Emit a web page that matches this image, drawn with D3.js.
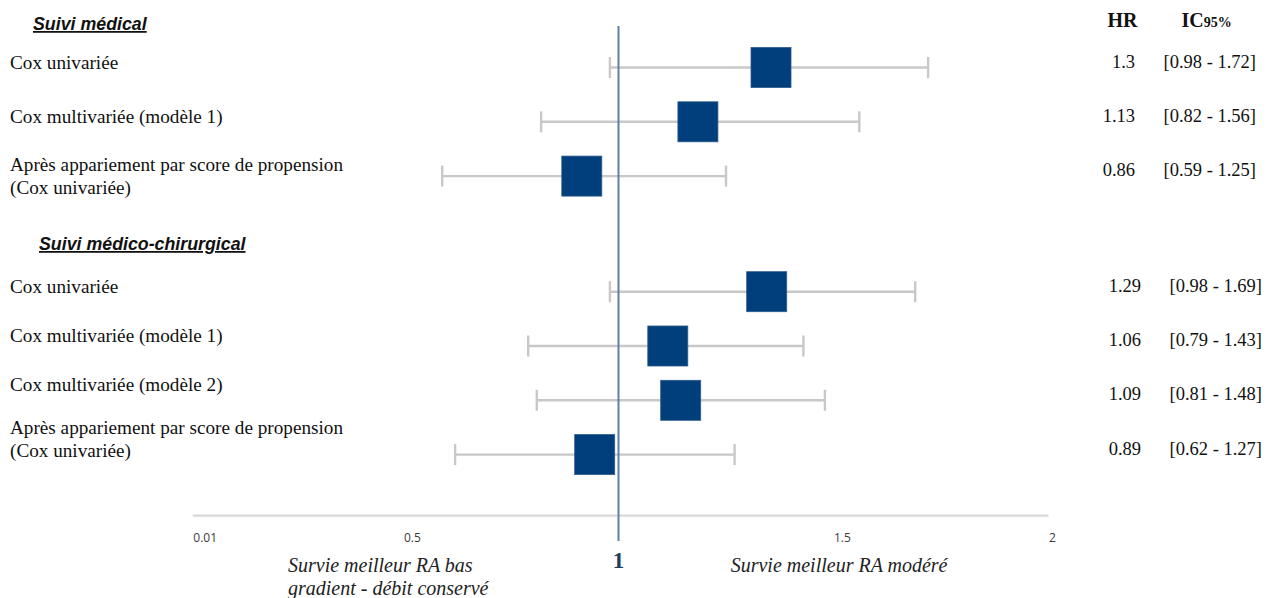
<!DOCTYPE html>
<html>
<head>
<meta charset="utf-8">
<script src="https://cdn.jsdelivr.net/npm/d3@7"></script>
<style>
  html, body { margin: 0; padding: 0; background: #ffffff; }
  svg { display: block; }
</style>
</head>
<body>
<svg id="chart" width="1276" height="598"></svg>
<script>
// ---------------- DATA ----------------
const groupTitles = ["Suivi médical", "Suivi médico-chirurgical"];
const rowLabels = [
  ["Cox univariée"],
  ["Cox multivariée (modèle 1)"],
  ["Après appariement par score de propension", "(Cox univariée)"],
  ["Cox univariée"],
  ["Cox multivariée (modèle 1)"],
  ["Cox multivariée (modèle 2)"],
  ["Après appariement par score de propension", "(Cox univariée)"]
];
const rowGroup = [0, 0, 0, 1, 1, 1, 1];
const hrValues = [1.3, 1.13, 0.86, 1.29, 1.06, 1.09, 0.89];
const ciLow    = [0.98, 0.82, 0.59, 0.98, 0.79, 0.81, 0.62];
const ciHigh   = [1.72, 1.56, 1.25, 1.69, 1.43, 1.48, 1.27];
const tickValues = [0.01, 0.5, 1.5, 2];
const tickLabels = ["0.01", "0.5", "1.5", "2"];
const refValue = 1;
const leftCaption = ["Survie meilleur RA bas", "gradient - débit conservé"];
const rightCaption = "Survie meilleur RA modéré";

// ---------------- LAYOUT ----------------
const svg = d3.select("#chart");
const x = d3.scaleLinear().domain([0, 2]).range([188.5, 1048.5]);

const groupTop = [67.5, 291.7];       // y of first row in each group
const rowStep = 54.3;
const headerY = [30, 250];
const headerX = [33, 39];
const labelBase = [68.5, 292.7];
const labelStep = [54, 49];
const colShift = [0, 6];

const idxInGroup = rowGroup.map((g, i) => i - rowGroup.indexOf(g));
const rowY = rowGroup.map((g, i) => groupTop[g] + rowStep * idxInGroup[i]);

const rows = hrValues.map((hr, i) => ({
  hr, lo: ciLow[i], hi: ciHigh[i], g: rowGroup[i], k: idxInGroup[i],
  y: rowY[i], label: rowLabels[i]
}));

const serif = "'Liberation Serif', 'Times New Roman', serif";
const sans = "'Liberation Sans', Arial, sans-serif";

// ---------------- AXIS ----------------
const axisY = 515.7;
svg.append("line")
  .attr("x1", x(tickValues[0])).attr("x2", x(tickValues[tickValues.length - 1]))
  .attr("y1", axisY).attr("y2", axisY)
  .attr("stroke", "#d9d9d9").attr("stroke-width", 2.2);

const axis = d3.axisBottom(x)
  .tickValues(tickValues)
  .tickFormat((d, i) => tickLabels[i])
  .tickSize(0)
  .tickPadding(0);
const axG = svg.append("g").attr("transform", `translate(0, 531)`).call(axis);
axG.select(".domain").remove();
axG.selectAll("text")
  .attr("text-anchor", "start")
  .attr("dy", "0.95em")
  .attr("font-family", "'Open Sans', sans-serif")
  .attr("font-size", 12)
  .attr("fill", "#3a3a3a");

// ---------------- WHISKERS ----------------
const wh = svg.append("g").attr("stroke", "#c8c8c8").attr("stroke-width", 2.4);
wh.selectAll("line.ci").data(rows).join("line")
  .attr("class", "ci")
  .attr("x1", d => x(d.lo)).attr("x2", d => x(d.hi))
  .attr("y1", d => d.y).attr("y2", d => d.y);
wh.selectAll("line.capL").data(rows).join("line")
  .attr("class", "capL")
  .attr("x1", d => x(d.lo)).attr("x2", d => x(d.lo))
  .attr("y1", d => d.y - 10.5).attr("y2", d => d.y + 10.5);
wh.selectAll("line.capR").data(rows).join("line")
  .attr("class", "capR")
  .attr("x1", d => x(d.hi)).attr("x2", d => x(d.hi))
  .attr("y1", d => d.y - 10.5).attr("y2", d => d.y + 10.5);

// ---------------- REFERENCE LINE ----------------
svg.append("line")
  .attr("x1", x(refValue)).attr("x2", x(refValue))
  .attr("y1", 26).attr("y2", 541)
  .attr("stroke", "#5b80ab").attr("stroke-width", 2);

// ---------------- BOXES ----------------
const boxSize = 40;
svg.append("g").selectAll("rect").data(rows).join("rect")
  .attr("x", d => x(d.hr) + 3.5)
  .attr("y", d => d.y - boxSize / 2)
  .attr("width", boxSize).attr("height", boxSize)
  .attr("fill", "#003f7b")
  .attr("stroke", "#2a5a8c").attr("stroke-width", 0.8);

// ---------------- GROUP HEADERS ----------------
groupTitles.forEach((t, g) => {
  svg.append("text")
    .attr("x", headerX[g]).attr("y", headerY[g])
    .attr("font-family", sans).attr("font-size", 17.8)
    .attr("font-weight", "bold").attr("font-style", "italic")
    .attr("fill", "#111")
    .attr("text-decoration", "underline")
    .text(t);
});

// ---------------- ROW LABELS ----------------
rows.forEach(d => {
  const two = d.label.length > 1;
  const base = labelBase[d.g] + labelStep[d.g] * d.k - (two ? 6 : 0);
  const t = svg.append("text")
    .attr("font-family", serif).attr("font-size", 19.2).attr("fill", "#111");
  d.label.forEach((line, j) => {
    t.append("tspan").attr("x", 10).attr("y", base + j * 23.5).text(line);
  });
});

// ---------------- VALUE COLUMNS ----------------
svg.append("text")
  .attr("x", 1122.5).attr("y", 26.7).attr("text-anchor", "middle")
  .attr("font-family", serif).attr("font-size", 20).attr("font-weight", "bold")
  .attr("fill", "#111").text("HR");
const ic = svg.append("text")
  .attr("x", 1181.5).attr("y", 26.7)
  .attr("font-family", serif).attr("font-weight", "bold").attr("fill", "#111");
ic.append("tspan").attr("font-size", 20).text("IC");
ic.append("tspan").attr("font-size", 14).text("95%");

const f2 = d3.format(".2f");
svg.append("g").selectAll("text.hr").data(rows).join("text")
  .attr("class", "hr")
  .attr("x", d => 1135 + colShift[d.g]).attr("y", d => d.y)
  .attr("text-anchor", "end")
  .attr("font-family", serif).attr("font-size", 18.5).attr("fill", "#111")
  .text(d => String(d.hr));
svg.append("g").selectAll("text.ci").data(rows).join("text")
  .attr("class", "ci")
  .attr("x", d => 1256 + colShift[d.g]).attr("y", d => d.y)
  .attr("text-anchor", "end")
  .attr("font-family", serif).attr("font-size", 18.5).attr("fill", "#111")
  .text(d => `[${f2(d.lo)} - ${f2(d.hi)}]`);

// ---------------- BOTTOM CAPTIONS ----------------
svg.append("text")
  .attr("x", x(refValue)).attr("y", 567.7).attr("text-anchor", "middle")
  .attr("font-family", serif).attr("font-size", 23).attr("font-weight", "bold")
  .attr("fill", "#1f3b5e").text(String(refValue));

const lc = svg.append("text")
  .attr("font-family", serif).attr("font-size", 20).attr("font-style", "italic")
  .attr("fill", "#222");
leftCaption.forEach((line, j) => {
  lc.append("tspan").attr("x", 288).attr("y", 572 + j * 23).text(line);
});
svg.append("text")
  .attr("x", 730.7).attr("y", 571.7)
  .attr("font-family", serif).attr("font-size", 20).attr("font-style", "italic")
  .attr("fill", "#222").text(rightCaption);
</script>
</body>
</html>
